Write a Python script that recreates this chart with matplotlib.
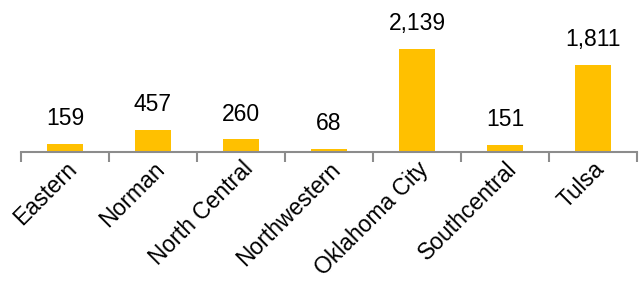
import matplotlib
matplotlib.use("Agg")
import matplotlib.pyplot as plt
import numpy as np

categories = ["Eastern", "Norman", "North Central", "Northwestern", "Oklahoma City", "Southcentral", "Tulsa"]
values = [159, 457, 260, 68, 2139, 151, 1811]

plt.rcParams['font.family'] = ['Liberation Sans', 'DejaVu Sans']

fig = plt.figure(figsize=(6.44, 2.86), dpi=100)
ax = fig.add_axes([21/644, 134/286, 616/644, 144/286])

x = np.arange(len(categories))
bars = ax.bar(x, values, width=0.4, color="#FFC000")
ax.set_xlim(-0.5, len(categories) - 0.5)
ax.set_ylim(0, 2990)

for xi, v in zip(x, values):
    ax.annotate(f"{v:,}", (xi, v), xytext=(0, 10), textcoords="offset points",
                ha="center", va="bottom", fontsize=16.5, color="black")

for s in ["left", "right", "top"]:
    ax.spines[s].set_visible(False)
ax.spines["bottom"].set_color("#8c8c8c")
ax.spines["bottom"].set_linewidth(1.5)
ax.set_yticks([])

ax.set_xticks(x)
ax.set_xticklabels(categories, rotation=45, ha="right", rotation_mode="anchor", fontsize=16.5)
ax.tick_params(axis="x", which="major", length=0, pad=4)
ax.set_xticks(np.arange(-0.5, len(categories)), minor=True)
ax.tick_params(axis="x", which="minor", length=7, width=1.5, color="#8c8c8c")

fig.savefig("out.png", dpi=100)
